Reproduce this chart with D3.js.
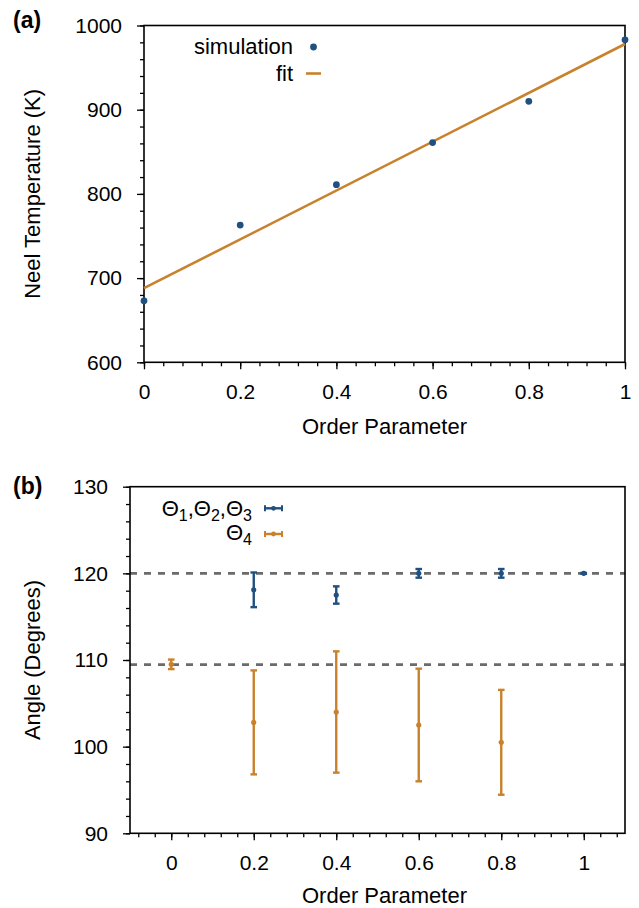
<!DOCTYPE html>
<html>
<head>
<meta charset="utf-8">
<script src="https://cdn.jsdelivr.net/npm/d3@7/dist/d3.min.js"></script>
<style>
  html, body { margin: 0; padding: 0; background: #fff; }
  svg { display: block; }
  text { font-family: "Liberation Sans", Arial, Helvetica, sans-serif; fill: #000; }
</style>
</head>
<body>
<svg id="chart" width="639" height="908"></svg>
<script>
// ---------- Panel (a) data ----------
const orderParam = [0, 0.2, 0.4, 0.6, 0.8, 1.0];
const neelTemp = [673, 763, 811, 861, 910, 983];
const fitX = [0, 1];
const fitY = [688, 978];
const xTicksA = [0, 0.2, 0.4, 0.6, 0.8, 1];
const xTickLabelsA = ["0", "0.2", "0.4", "0.6", "0.8", "1"];
const yTicksA = [600, 700, 800, 900, 1000];
const yTickLabelsA = ["600", "700", "800", "900", "1000"];

// ---------- Panel (b) data ----------
const thetaX = [0.2, 0.4, 0.6, 0.8, 1.0];
const thetaMean = [118.1, 117.5, 120.0, 120.0, 120.0];
const thetaErr = [2.0, 1.0, 0.5, 0.5, 0.05];
const theta4X = [0, 0.2, 0.4, 0.6, 0.8];
const theta4Mean = [109.5, 102.8, 104.0, 102.5, 100.5];
const theta4Err = [0.55, 6.0, 7.0, 6.5, 6.05];
const refAngles = [120, 109.47];
const xTicksB = [0, 0.2, 0.4, 0.6, 0.8, 1];
const xTickLabelsB = ["0", "0.2", "0.4", "0.6", "0.8", "1"];
const yTicksB = [90, 100, 110, 120, 130];
const yTickLabelsB = ["90", "100", "110", "120", "130"];

const BLUE = "#1f5080";
const ORANGE = "#c8822d";
const FONT = 21;
const TITLE_FONT = 22;

const svg = d3.select("#chart");

function drawAxes(g, x, y, xTicks, xLabels, yTicks, yLabels, minorX, minorY, w, h) {
  // minor ticks
  g.append("g").attr("transform", `translate(0,${h})`)
    .call(d3.axisBottom(x).tickValues(minorX).tickSize(4).tickFormat(""))
    .call(s => s.select(".domain").remove());
  g.append("g")
    .call(d3.axisLeft(y).tickValues(minorY).tickSize(4).tickFormat(""))
    .call(s => s.select(".domain").remove());
  // major ticks
  const xa = g.append("g").attr("transform", `translate(0,${h})`)
    .call(d3.axisBottom(x).tickValues(xTicks).tickSize(7).tickPadding(15)
      .tickFormat((d, i) => xLabels[i]));
  xa.select(".domain").remove();
  const ya = g.append("g")
    .call(d3.axisLeft(y).tickValues(yTicks).tickSize(7).tickPadding(15)
      .tickFormat((d, i) => yLabels[i]));
  ya.select(".domain").remove();
  g.selectAll(".tick line").attr("stroke", "#000").attr("stroke-width", 1.3);
  g.selectAll(".tick text").attr("font-size", FONT)
    .attr("font-family", '"Liberation Sans", Arial, sans-serif').attr("fill", "#000");
  // frame
  g.append("rect").attr("x", 0).attr("y", 0).attr("width", w).attr("height", h)
    .attr("fill", "none").attr("stroke", "#000").attr("stroke-width", 1.6);
}

// ================= Panel (a) =================
{
  const m = { left: 144, top: 25.5, right: 625, bottom: 362.3 };
  const w = m.right - m.left, h = m.bottom - m.top;
  const g = svg.append("g").attr("transform", `translate(${m.left},${m.top})`);
  const x = d3.scaleLinear().domain([0, 1]).range([0, w]);
  const y = d3.scaleLinear().domain([600, 1000]).range([h, 0]);

  const minorX = d3.range(0, 1.0001, 0.04).map(v => +v.toFixed(2));
  const minorY = d3.range(600, 1000.1, 20);
  drawAxes(g, x, y, xTicksA, xTickLabelsA, yTicksA, yTickLabelsA, minorX, minorY, w, h);

  // fit line
  g.append("path")
    .datum(fitX.map((v, i) => [v, fitY[i]]))
    .attr("d", d3.line().x(d => x(d[0])).y(d => y(d[1])))
    .attr("fill", "none").attr("stroke", ORANGE).attr("stroke-width", 2.6);

  // simulation points
  g.selectAll("circle.sim").data(orderParam).enter().append("circle")
    .attr("class", "sim")
    .attr("cx", d => x(d)).attr("cy", (d, i) => y(neelTemp[i]))
    .attr("r", 3.4).attr("fill", BLUE);

  // legend
  svg.append("text").attr("x", 293).attr("y", 54).attr("text-anchor", "end")
    .attr("font-size", TITLE_FONT).text("simulation");
  svg.append("circle").attr("cx", 313.5).attr("cy", 47).attr("r", 3.4).attr("fill", BLUE);
  svg.append("text").attr("x", 293).attr("y", 81).attr("text-anchor", "end")
    .attr("font-size", TITLE_FONT).text("fit");
  svg.append("line").attr("x1", 306).attr("x2", 321).attr("y1", 73.5).attr("y2", 73.5)
    .attr("stroke", ORANGE).attr("stroke-width", 2.6);

  // axis titles
  svg.append("text").attr("x", 384.5).attr("y", 434).attr("text-anchor", "middle")
    .attr("font-size", TITLE_FONT).text("Order Parameter");
  svg.append("text").attr("transform", `translate(40,${(m.top + m.bottom) / 2}) rotate(-90)`)
    .attr("text-anchor", "middle").attr("font-size", TITLE_FONT).text("Neel Temperature (K)");
  svg.append("text").attr("x", 13).attr("y", 28).attr("font-size", 23)
    .attr("font-weight", "bold").text("(a)");
}

// ================= Panel (b) =================
{
  const m = { left: 130, top: 486.7, right: 625, bottom: 833.3 };
  const w = m.right - m.left, h = m.bottom - m.top;
  const g = svg.append("g").attr("transform", `translate(${m.left},${m.top})`);
  const x = d3.scaleLinear().domain([-0.1, 1.1]).range([0, w]);
  const y = d3.scaleLinear().domain([90, 130]).range([h, 0]);

  // reference dashed lines (drawn first)
  g.selectAll("line.ref").data(refAngles).enter().append("line")
    .attr("class", "ref")
    .attr("x1", 0).attr("x2", w).attr("y1", d => y(d)).attr("y2", d => y(d))
    .attr("stroke", "#6b6b6b").attr("stroke-width", 2.6).attr("stroke-dasharray", "7,7");

  const minorX = d3.range(-0.08, 1.1, 0.04).map(v => +v.toFixed(2));
  const minorY = d3.range(90, 130.1, 2);
  drawAxes(g, x, y, xTicksB, xTickLabelsB, yTicksB, yTickLabelsB, minorX, minorY, w, h);

  function errorBars(xs, means, errs, color, cls) {
    const sel = g.selectAll("g." + cls).data(xs).enter().append("g").attr("class", cls);
    sel.append("line")
      .attr("x1", d => x(d)).attr("x2", d => x(d))
      .attr("y1", (d, i) => y(means[i] - errs[i])).attr("y2", (d, i) => y(means[i] + errs[i]))
      .attr("stroke", color).attr("stroke-width", 2.4);
    [-1, 1].forEach(s => {
      sel.append("line")
        .attr("x1", d => x(d) - 3.3).attr("x2", d => x(d) + 3.3)
        .attr("y1", (d, i) => y(means[i] + s * errs[i])).attr("y2", (d, i) => y(means[i] + s * errs[i]))
        .attr("stroke", color).attr("stroke-width", 2.4);
    });
    sel.append("circle")
      .attr("cx", d => x(d)).attr("cy", (d, i) => y(means[i]))
      .attr("r", 2.6).attr("fill", color);
  }
  errorBars(thetaX, thetaMean, thetaErr, BLUE, "theta");
  errorBars(theta4X, theta4Mean, theta4Err, ORANGE, "theta4");

  // legend
  function legendSym(cy, color) {
    svg.append("line").attr("x1", 265).attr("x2", 282).attr("y1", cy).attr("y2", cy)
      .attr("stroke", color).attr("stroke-width", 2.4);
    [265, 282].forEach(cx => svg.append("line").attr("x1", cx).attr("x2", cx)
      .attr("y1", cy - 3).attr("y2", cy + 3).attr("stroke", color).attr("stroke-width", 2));
    svg.append("circle").attr("cx", 273.5).attr("cy", cy).attr("r", 2.4).attr("fill", color);
  }
  const l1 = svg.append("text").attr("x", 252).attr("y", 516).attr("text-anchor", "end")
    .attr("font-size", TITLE_FONT);
  [["Θ", "1"], [",Θ", "2"], [",Θ", "3"]].forEach(([a, b], i) => {
    l1.append("tspan").attr("dy", i === 0 ? 0 : -5).text(a);
    l1.append("tspan").attr("font-size", 16).attr("dy", 5).text(b);
  });
  legendSym(508.3, BLUE);
  const l2 = svg.append("text").attr("x", 252).attr("y", 540).attr("text-anchor", "end")
    .attr("font-size", TITLE_FONT);
  l2.append("tspan").text("Θ");
  l2.append("tspan").attr("font-size", 16).attr("dy", 5).text("4");
  legendSym(534, ORANGE);

  svg.append("text").attr("x", 384.5).attr("y", 903).attr("text-anchor", "middle")
    .attr("font-size", TITLE_FONT).text("Order Parameter");
  svg.append("text").attr("transform", `translate(40,${(m.top + m.bottom) / 2}) rotate(-90)`)
    .attr("text-anchor", "middle").attr("font-size", TITLE_FONT).text("Angle (Degrees)");
  svg.append("text").attr("x", 13).attr("y", 494).attr("font-size", 23)
    .attr("font-weight", "bold").text("(b)");
}
</script>
</body>
</html>
